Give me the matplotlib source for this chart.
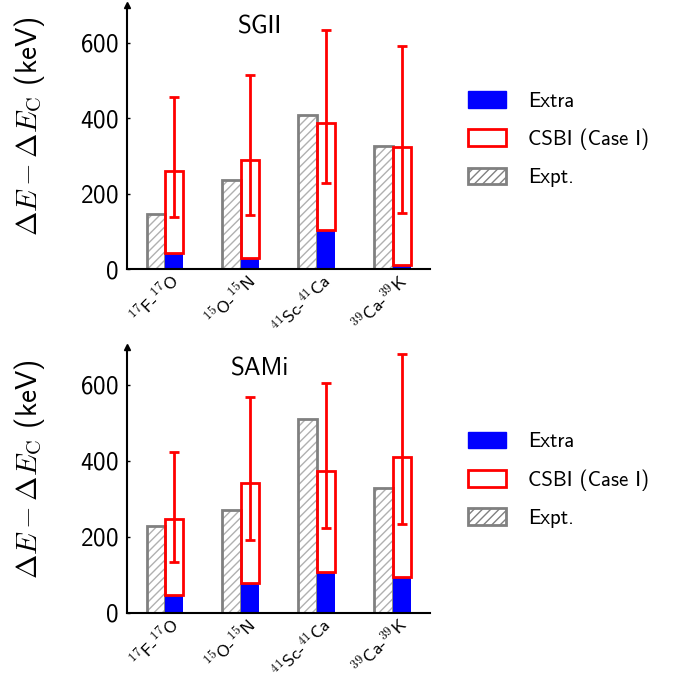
import matplotlib
matplotlib.use("Agg")
import matplotlib.pyplot as plt
from matplotlib.patches import Patch
import numpy as np

plt.rcParams['font.family'] = ['cmss10', 'DejaVu Sans']
plt.rcParams['mathtext.fontset'] = 'cm'
plt.rcParams['axes.unicode_minus'] = False
plt.rcParams['axes.formatter.use_mathtext'] = True
plt.rcParams['hatch.linewidth'] = 1.0

pairs = [r'$^{\mathsf{17}}$F-$^{\mathsf{17}}$O', r'$^{\mathsf{15}}$O-$^{\mathsf{15}}$N',
         r'$^{\mathsf{41}}$Sc-$^{\mathsf{41}}$Ca', r'$^{\mathsf{39}}$Ca-$^{\mathsf{39}}$K']

# SGII
sgii_expt = [147, 235, 408, 327]
sgii_extra = [42, 29, 104, 11]
sgii_csbi = [260, 288, 386, 323]
sgii_err_lo = [138, 143, 228, 150]
sgii_err_hi = [456, 513, 634, 591]

# SAMi
sami_expt = [227, 270, 509, 327]
sami_extra = [46, 77, 106, 95]
sami_csbi = [246, 341, 372, 410]
sami_err_lo = [134, 192, 224, 234]
sami_err_hi = [424, 569, 605, 681]

panels = [
    ("SGII", sgii_expt, sgii_extra, sgii_csbi, sgii_err_lo, sgii_err_hi,
     [0.187, 0.604, 0.447, 0.389], 0.866),
    ("SAMi", sami_expt, sami_extra, sami_csbi, sami_err_lo, sami_err_hi,
     [0.187, 0.099, 0.447, 0.391], 0.365),
]

fig = plt.figure(figsize=(6.78, 6.8), dpi=100)
x = np.arange(len(pairs))
w = 0.24

for title, expt, extra, csbi, lo, hi, rect, leg_y in panels:
    ax = fig.add_axes(rect)
    extra = np.array(extra)
    csbi = np.array(csbi)
    # experiment: hatch + gray frame
    ax.bar(x - w / 2, expt, w, facecolor='white', edgecolor='#b0b0b0',
           hatch='////', linewidth=0)
    ax.bar(x - w / 2, expt, w, facecolor='none', edgecolor='#808080',
           linewidth=2)
    # extra contribution
    ax.bar(x + w / 2, extra, w, color='#0000ff', linewidth=0)
    # CSBI box on top of extra
    ax.bar(x + w / 2, csbi - extra, w, bottom=extra, facecolor='none',
           edgecolor='#ff0000', linewidth=2)
    yerr = [csbi - np.array(lo), np.array(hi) - csbi]
    ax.errorbar(x + w / 2, csbi, yerr=yerr, fmt='none', ecolor='#ff0000',
                elinewidth=2, capsize=3.5, capthick=2)

    ax.set_xlim(-0.5, 3.49)
    ax.set_ylim(0, 700)
    ax.set_yticks([0, 200, 400, 600])
    ax.set_xticks(x + 0.05)
    ax.set_xticklabels(pairs, rotation=45, ha='right', rotation_mode='anchor',
                       fontsize=13)
    ax.tick_params(axis='y', direction='in', length=2.5, width=1,
                   labelsize=18, pad=6)
    ax.tick_params(axis='x', length=0, pad=1)
    for s in ['top', 'right']:
        ax.spines[s].set_visible(False)
    ax.spines['left'].set_linewidth(1.5)
    ax.spines['bottom'].set_linewidth(1.5)
    ax.plot(0, 1, marker='^', color='k', markersize=5,
            transform=ax.transAxes, clip_on=False)
    ax.text(0.44, 0.915, title, transform=ax.transAxes, ha='center',
            va='center', fontsize=18)
    ax.set_ylabel(r'$\Delta E - \Delta E_{\rm C}$ (keV)', fontsize=21)
    ax.yaxis.set_label_coords(-0.262, 0.54)

    handles = [Patch(facecolor='#0000ff', edgecolor='#0000ff'),
               Patch(facecolor='white', edgecolor='#ff0000', linewidth=2),
               Patch(facecolor='white', edgecolor='#808080', hatch='////',
                     linewidth=2)]
    fig.legend(handles, ['Extra', 'CSBI (Case I)', 'Expt.'],
               loc='upper left', bbox_to_anchor=(0.69, leg_y), frameon=False,
               fontsize=15, handlelength=1.85, handleheight=0.85,
               handletextpad=1.05, labelspacing=0.85, borderpad=0,
               borderaxespad=0)

fig.savefig("out.png", dpi=100)
